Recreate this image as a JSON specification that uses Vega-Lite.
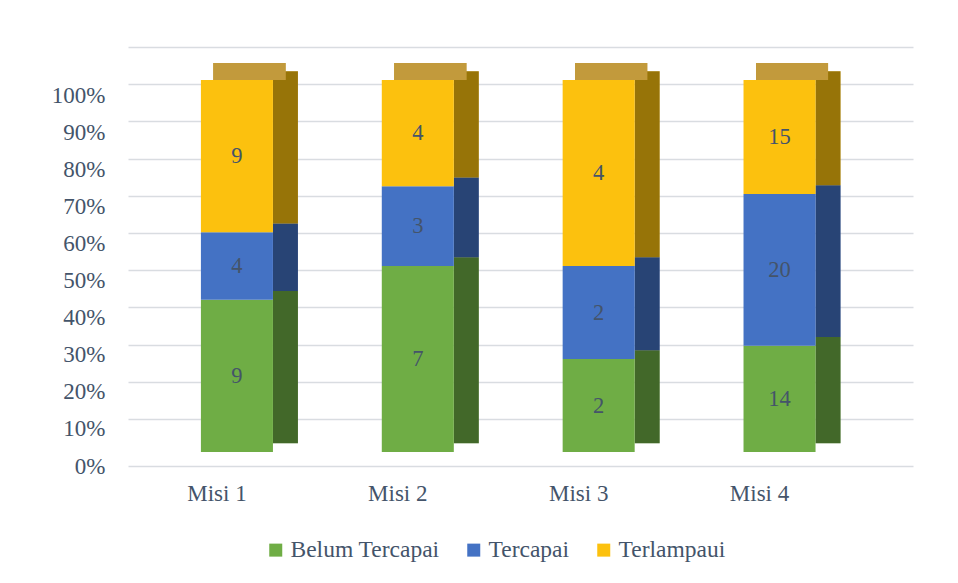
{
  "$schema": "https://vega.github.io/schema/vega-lite/v6.json",
  "width": 785,
  "height": 419,
  "padding": {"left": 51, "top": 47, "right": 5, "bottom": 90},
  "background": "#ffffff",
  "config": {"view": {"stroke": null}, "font": "Liberation Serif"},
  "data": {
    "values": [
      {"misi": "Misi 1", "category": "Belum Tercapai", "value": 9},
      {"misi": "Misi 1", "category": "Tercapai", "value": 4},
      {"misi": "Misi 1", "category": "Terlampaui", "value": 9},
      {"misi": "Misi 2", "category": "Belum Tercapai", "value": 7},
      {"misi": "Misi 2", "category": "Tercapai", "value": 3},
      {"misi": "Misi 2", "category": "Terlampaui", "value": 4},
      {"misi": "Misi 3", "category": "Belum Tercapai", "value": 2},
      {"misi": "Misi 3", "category": "Tercapai", "value": 2},
      {"misi": "Misi 3", "category": "Terlampaui", "value": 4},
      {"misi": "Misi 4", "category": "Belum Tercapai", "value": 14},
      {"misi": "Misi 4", "category": "Tercapai", "value": 20},
      {"misi": "Misi 4", "category": "Terlampaui", "value": 15}
    ]
  },
  "layer": [
    {
      "mark": {"type": "rule", "strokeOpacity": 0},
      "encoding": {
        "y": {
          "datum": 0, "type": "quantitative",
          "scale": {"domain": [-0.12634, 1], "nice": false, "zero": false},
          "axis": {"orient": "right", "grid": true, "labels": false, "ticks": false, "domain": false, "title": null,
                   "values": [0, 0.1, 0.2, 0.3, 0.4, 0.5, 0.6, 0.7, 0.8, 0.9, 1],
                   "gridColor": "#d9dce1", "gridWidth": 1.5, "minExtent": 0, "maxExtent": 0}
        }
      }
    },
    {
      "mark": {"type": "rule", "strokeOpacity": 0},
      "encoding": {
        "y": {
          "datum": 0, "type": "quantitative",
          "scale": {"domain": [0, 1.13243], "nice": false, "zero": false},
          "axis": {"orient": "left", "grid": false, "ticks": false, "domain": false, "title": null,
                   "values": [0, 0.1, 0.2, 0.3, 0.4, 0.5, 0.6, 0.7, 0.8, 0.9, 1],
                   "format": ".0%", "labelFont": "Liberation Serif", "labelFontSize": 23, "labelColor": "#44546a",
                   "labelPadding": 23, "minExtent": 75, "maxExtent": 75}
        }
      }
    },
    {
      "mark": {"type": "bar", "width": 25, "xOffset": 48.5},
      "encoding": {
        "x": {"field": "misi", "type": "nominal", "scale": {"paddingInner": 0.6018, "paddingOuter": 0.471, "align": 0.428}},
        "y": {"field": "value", "type": "quantitative", "stack": "normalize",
              "scale": {"domain": [-0.06102, 1.06532], "nice": false, "zero": false}, "axis": null},
        "color": {"field": "category", "type": "nominal"},
        "order": {"field": "category", "sort": "ascending"}
      }
    },
    {
      "mark": {"type": "bar", "width": 25, "xOffset": 48.5, "color": "#000000", "opacity": 0.4},
      "encoding": {
        "x": {"field": "misi", "type": "nominal", "scale": {"paddingInner": 0.6018, "paddingOuter": 0.471, "align": 0.428}},
        "y": {"field": "value", "type": "quantitative", "stack": "normalize",
              "scale": {"domain": [-0.06102, 1.06532], "nice": false, "zero": false}, "axis": null},
        "detail": {"field": "category", "type": "nominal"},
        "order": {"field": "category", "sort": "ascending"}
      }
    },
    {
      "mark": {"type": "bar", "xOffset": 12.5, "color": "#c29a3c"},
      "encoding": {
        "x": {"field": "misi", "type": "nominal", "scale": {"paddingInner": 0.6018, "paddingOuter": 0.471, "align": 0.428}},
        "y": {"datum": 1, "type": "quantitative", "scale": {"domain": [-0.03763, 1.08871], "nice": false, "zero": false}, "axis": null},
        "y2": {"datum": 1.0457}
      }
    },
    {
      "mark": {"type": "bar"},
      "encoding": {
        "x": {"field": "misi", "type": "nominal",
              "scale": {"paddingInner": 0.6018, "paddingOuter": 0.471, "align": 0.428},
              "axis": {"title": null, "labelAngle": 0, "labelAlign": "center", "ticks": false, "labelPadding": 27, "labelOffset": -20,
                       "labelFont": "Liberation Serif", "labelFontSize": 23, "labelColor": "#44546a",
                       "domainColor": "#d9dce1", "domainWidth": 1.5}},
        "y": {"field": "value", "type": "quantitative", "stack": "normalize",
              "scale": {"domain": [-0.03763, 1.08871], "nice": false, "zero": false}, "axis": null},
        "color": {"field": "category", "type": "nominal",
                  "scale": {"domain": ["Belum Tercapai", "Tercapai", "Terlampaui"], "range": ["#6fad45", "#4472c4", "#fcc10e"]},
                  "legend": {"title": null, "orient": "none", "legendX": 136, "legendY": 491, "direction": "horizontal",
                             "symbolType": "square", "symbolSize": 169, "symbolStrokeWidth": 0,
                             "labelFont": "Liberation Serif", "labelFontSize": 23.5, "labelColor": "#44546a",
                             "labelOffset": 3, "columnPadding": 22}},
        "order": {"field": "category", "sort": "ascending"}
      }
    },
    {
      "mark": {"type": "text", "font": "Liberation Serif", "fontSize": 22.5, "color": "#44546a", "baseline": "middle"},
      "encoding": {
        "x": {"field": "misi", "type": "nominal", "scale": {"paddingInner": 0.6018, "paddingOuter": 0.471, "align": 0.428}},
        "y": {"field": "value", "type": "quantitative", "stack": "normalize", "bandPosition": 0.5,
              "scale": {"domain": [-0.03763, 1.08871], "nice": false, "zero": false}, "axis": null},
        "text": {"field": "value", "type": "quantitative"},
        "order": {"field": "category", "sort": "ascending"}
      }
    }
  ],
  "resolve": {"scale": {"y": "independent"}, "axis": {"y": "independent"}}
}
